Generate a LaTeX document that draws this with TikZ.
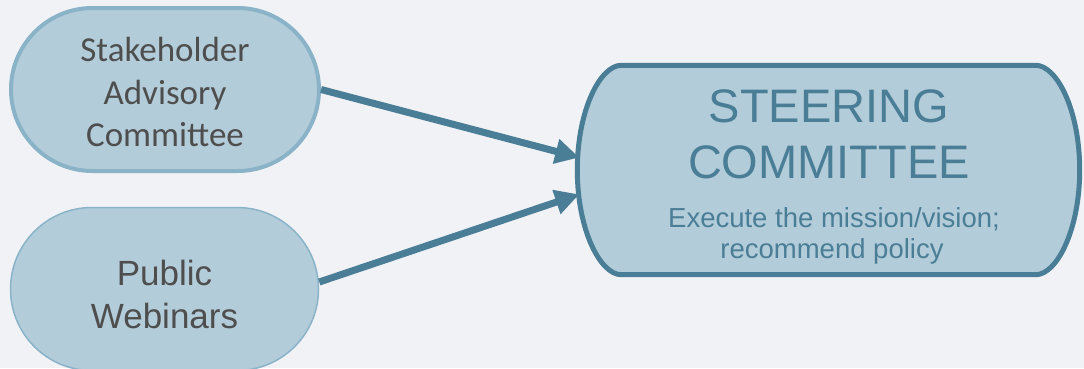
\documentclass[tikz,border=0pt]{standalone}
\usepackage{fontspec}
\setmainfont{Liberation Sans}
\newfontfamily\calibfont{Carlito}
\usetikzlibrary{shapes.misc,calc,arrows.meta}
\definecolor{bgc}{HTML}{F0F2F6}
\definecolor{fillc}{HTML}{B3CCD9}
\definecolor{lightb}{HTML}{8AB3C8}
\definecolor{darkb}{HTML}{4A7D96}
\definecolor{greyt}{HTML}{4E4E4E}
\tikzset{
  pill/.style={rounded rectangle, fill=fillc, draw=lightb, inner sep=0pt},
  pilltext/.style={align=center, text=greyt, inner sep=0pt},
  bigshape/.style={fill=fillc, draw=darkb, line width=5pt, line join=round},
  flow/.style={draw=darkb, line width=7pt, -{Triangle[length=24pt,width=24pt]}, shorten >=-2pt},
  title/.style={anchor=base, text=darkb, font=\fontsize{47}{56}\selectfont, inner sep=0pt},
  sub/.style={anchor=base, text=darkb, font=\fontsize{27.5}{31}\selectfont, inner sep=0pt}
}
\begin{document}
\begin{tikzpicture}[x=1pt,y=-1pt]
\fill[bgc] (0,0) rectangle (1084,368);
\useasboundingbox (0,0) rectangle (1084,368);
\clip (0,0) rectangle (1084,368);
% left pills
\node[pill, line width=4pt, minimum width=308pt, minimum height=163pt] (sac) at (165,89.5) {};
\node[pilltext, font=\calibfont\fontsize{35}{42.5}\selectfont] (sact) at (165,92) {Stakeholder\\Advisory\\Committee};
\node[pill, line width=1.5pt, minimum width=308pt, minimum height=163pt] (pw) at (164.5,289) {};
\node[pilltext, font=\fontsize{35}{43}\selectfont] (pwt) at (164.5,294) {Public\\Webinars};
% steering committee
\node[minimum width=502pt, minimum height=209pt, inner sep=0pt] (sc) at (828.5,170) {};
\path[bigshape] ($(sc.north west)+(44,0)$) -- ($(sc.north east)+(-44,0)$)
  .. controls +(21,0) and ($(sc.east)+(0,-60)$) .. (sc.east)
  .. controls ($(sc.east)+(0,60)$) and ($(sc.south east)+(-23,0)$) .. ($(sc.south east)+(-44,0)$)
  -- ($(sc.south west)+(44,0)$)
  .. controls +(-21,0) and ($(sc.west)+(0,60)$) .. (sc.west)
  .. controls ($(sc.west)+(0,-60)$) and ($(sc.north west)+(23,0)$) .. cycle;
\node[title] (st1) at (829,122) {STEERING};
\node[title] (st2) at (829,178) {COMMITTEE};
\node[sub] (sb1) at (834,227) {Execute the mission/vision;};
\node[sub] (sb2) at (832,258) {recommend policy};
% connectors
\draw[flow] (sac.east) -- ($(sc.west)+(0,-13)$);
\draw[flow] ($(pw.east)+(0,-7)$) -- ($(sc.west)+(0,25)$);
\end{tikzpicture}
\end{document}
